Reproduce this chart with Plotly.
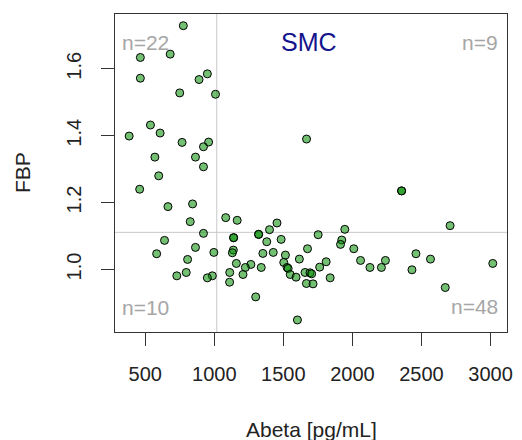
import plotly.graph_objects as go

# Abeta [pg/mL] values
abeta = [
    # upper-left
    776, 465, 681, 465, 890, 950, 750, 1009, 538, 384, 608, 767, 959, 922, 570, 864, 922, 598, 460, 665, 843, 826,
    # upper-right
    1083, 1166, 1400, 1454, 1668, 2356, 2356, 2707, 1945,
    # lower-left
    922, 640, 864, 583, 997, 807, 797, 729, 986, 950,
    # lower-right
    1140, 1140, 1321, 1321, 1380, 1484, 1138, 1131, 1352, 1427, 1515, 1616, 1160, 1265, 1225, 1340,
    1503, 1527, 1535, 1112, 1208, 1111, 1550, 1592, 1300, 1602, 1752, 1675, 1923, 1914, 2010, 2460,
    2059, 2239, 2565, 3016, 1810, 1763, 2127, 2210, 2431, 1657, 1693, 1705, 1667, 1715, 1839, 2672,
]
# FBP values
fbp = [
    1.729, 1.634, 1.644, 1.572, 1.568, 1.585, 1.528, 1.524, 1.432, 1.399, 1.408, 1.380, 1.381, 1.367, 1.336, 1.336, 1.307, 1.280, 1.240, 1.188, 1.196, 1.143,
    1.155, 1.147, 1.119, 1.139, 1.390, 1.235, 1.235, 1.131, 1.120,
    1.108, 1.087, 1.066, 1.047, 1.051, 1.030, 0.991, 0.981, 0.981, 0.975,
    1.095, 1.095, 1.105, 1.105, 1.083, 1.090, 1.058, 1.050, 1.048, 1.051, 1.043, 1.031, 1.018, 1.015, 1.006, 1.006,
    1.021, 1.006, 1.003, 0.991, 0.985, 0.962, 0.985, 0.977, 0.918, 0.849, 1.104, 1.062, 1.088, 1.075, 1.062, 1.047,
    1.027, 1.027, 1.031, 1.018, 1.023, 1.007, 1.006, 1.006, 0.999, 0.991, 0.990, 0.987, 0.958, 0.957, 0.975, 0.946,
]

x_cut = 1018
y_cut = 1.111
x_ticks = [500, 1000, 1500, 2000, 2500, 3000]
y_ticks = [1.0, 1.2, 1.4, 1.6]
quadrant_labels = ["n=22", "n=9", "n=10", "n=48"]
title_text = "SMC"

FONT = "Arial, Liberation Sans, sans-serif"

fig = go.Figure()
fig.add_trace(go.Scatter(
    x=abeta, y=fbp, mode="markers",
    marker=dict(size=8, color="rgba(0,140,0,0.55)", line=dict(color="black", width=1)),
    showlegend=False, hoverinfo="x+y",
))

fig.add_shape(type="line", xref="x", yref="paper", x0=x_cut, x1=x_cut, y0=0, y1=1,
              line=dict(color="#c8c8c8", width=1), layer="below")
fig.add_shape(type="line", xref="paper", yref="y", x0=0, x1=1, y0=y_cut, y1=y_cut,
              line=dict(color="#c8c8c8", width=1), layer="below")

grey = "#a6a6a6"
ann = [
    dict(text=quadrant_labels[0], x=0, y=1, xanchor="left", yanchor="middle", xshift=5, yshift=-28),
    dict(text=quadrant_labels[1], x=1, y=1, xanchor="right", yanchor="middle", xshift=-7, yshift=-28),
    dict(text=quadrant_labels[2], x=0, y=0, xanchor="left", yanchor="middle", xshift=5, yshift=25),
    dict(text=quadrant_labels[3], x=1, y=0, xanchor="right", yanchor="middle", xshift=-7, yshift=26),
]
for a in ann:
    fig.add_annotation(xref="paper", yref="paper", showarrow=False,
                       font=dict(family=FONT, size=21, color=grey), **a)

fig.add_annotation(text=title_text, xref="paper", yref="paper", x=0.4953, y=1, xanchor="center",
                   yanchor="middle", yshift=-28, showarrow=False,
                   font=dict(family=FONT, size=25, color="#14148c"))
fig.add_annotation(text="Abeta [pg/mL]", xref="paper", yref="paper", x=0.5, y=0, xanchor="center",
                   yanchor="middle", yshift=-97, showarrow=False,
                   font=dict(family=FONT, size=21, color="#222222"))
fig.add_annotation(text="FBP", xref="paper", yref="paper", x=0, y=0.5, xanchor="center",
                   yanchor="middle", xshift=-93, textangle=-90, showarrow=False,
                   font=dict(family=FONT, size=21, color="#222222"))

axis_common = dict(showgrid=False, zeroline=False, showline=True, mirror=True, linecolor="#333333",
                   linewidth=1, ticks="outside", ticklen=13, tickcolor="#333333", tickwidth=1,
                   tickfont=dict(family=FONT, size=20, color="#222222"))
fig.update_xaxes(range=[281.5, 3119], tickvals=x_ticks, ticklabelstandoff=11, **axis_common)
fig.update_yaxes(range=[0.813, 1.764], tickvals=y_ticks, tickformat=".1f", tickangle=-90,
                 ticklabelstandoff=12, **axis_common)

fig.update_layout(width=522, height=440, autosize=False,
                  margin=dict(l=115, r=9, t=14, b=108),
                  plot_bgcolor="white", paper_bgcolor="white")

fig.write_html("out.html", config={"displayModeBar": False},
               post_script="document.body.style.margin='0';document.body.style.overflow='hidden';")
